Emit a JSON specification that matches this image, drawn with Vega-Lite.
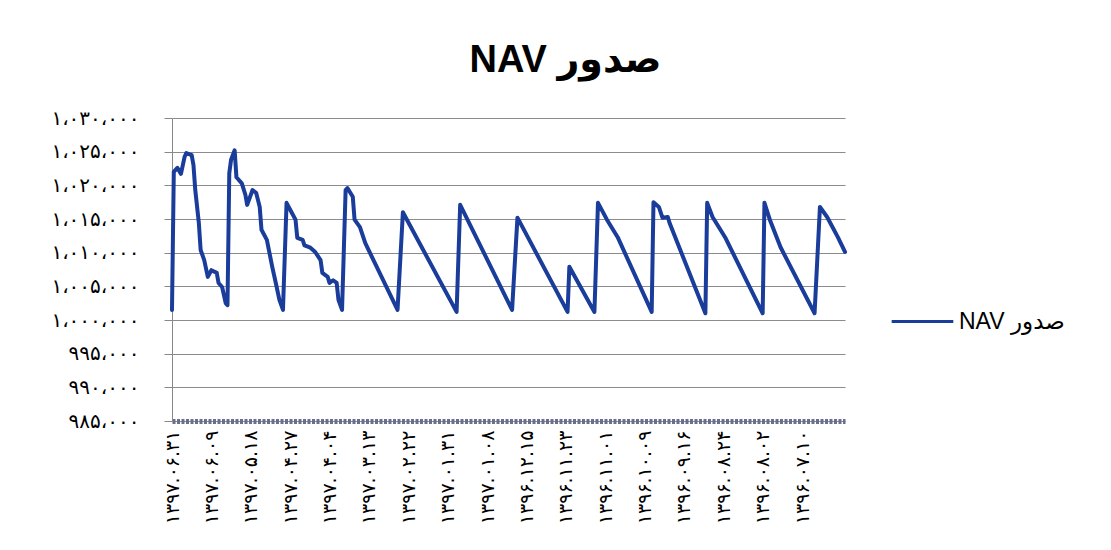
{
  "$schema": "https://vega.github.io/schema/vega-lite/v6.json",
  "width": 673,
  "height": 303,
  "autosize": "none",
  "padding": {"left": 172, "top": 118, "right": 266, "bottom": 129},
  "background": "white",
  "config": {"view": {"stroke": null}},
  "title": {"text": "NAV صدور", "fontSize": 38, "font": "Liberation Sans, DejaVu Sans", "fontWeight": "bold", "color": "black", "offset": 28, "dx": 57, "anchor": "middle"},
  "data": {"values": [
    {"day": 0, "nav": 1001500}, {"day": 1, "nav": 1022000}, {"day": 3, "nav": 1022600}, {"day": 5, "nav": 1021700},
    {"day": 7, "nav": 1024200}, {"day": 8, "nav": 1024800}, {"day": 11, "nav": 1024500}, {"day": 12, "nav": 1023000},
    {"day": 13, "nav": 1019300}, {"day": 15, "nav": 1014400}, {"day": 16, "nav": 1010400}, {"day": 18, "nav": 1008900},
    {"day": 20, "nav": 1006400}, {"day": 22, "nav": 1007400}, {"day": 25, "nav": 1007000}, {"day": 26, "nav": 1005500},
    {"day": 28, "nav": 1004900}, {"day": 30, "nav": 1002500}, {"day": 31, "nav": 1002200}, {"day": 32, "nav": 1021800},
    {"day": 33, "nav": 1023800}, {"day": 35, "nav": 1025200}, {"day": 36, "nav": 1021200}, {"day": 39, "nav": 1020300},
    {"day": 41, "nav": 1018600}, {"day": 42, "nav": 1017100}, {"day": 45, "nav": 1019300}, {"day": 47, "nav": 1018900},
    {"day": 49, "nav": 1016800}, {"day": 50, "nav": 1013400}, {"day": 53, "nav": 1011900}, {"day": 56, "nav": 1007900},
    {"day": 58, "nav": 1005500}, {"day": 60, "nav": 1003000}, {"day": 62, "nav": 1001500}, {"day": 64, "nav": 1017400},
    {"day": 67, "nav": 1015900}, {"day": 69, "nav": 1014900}, {"day": 70, "nav": 1012200}, {"day": 73, "nav": 1011900},
    {"day": 74, "nav": 1011100}, {"day": 77, "nav": 1010800}, {"day": 80, "nav": 1010100}, {"day": 83, "nav": 1008900},
    {"day": 84, "nav": 1007000}, {"day": 87, "nav": 1006400}, {"day": 88, "nav": 1005500}, {"day": 90, "nav": 1005900},
    {"day": 92, "nav": 1005500}, {"day": 93, "nav": 1003000}, {"day": 95, "nav": 1001500}, {"day": 97, "nav": 1019300},
    {"day": 98, "nav": 1019600}, {"day": 101, "nav": 1018300}, {"day": 102, "nav": 1014900}, {"day": 105, "nav": 1013800},
    {"day": 108, "nav": 1011400}, {"day": 126, "nav": 1001500}, {"day": 129, "nav": 1016000}, {"day": 159, "nav": 1001200},
    {"day": 161, "nav": 1017100}, {"day": 190, "nav": 1001500}, {"day": 193, "nav": 1015200}, {"day": 221, "nav": 1001200},
    {"day": 222, "nav": 1007900}, {"day": 236, "nav": 1001200}, {"day": 238, "nav": 1017400}, {"day": 243, "nav": 1014900},
    {"day": 249, "nav": 1012300}, {"day": 268, "nav": 1001200}, {"day": 269, "nav": 1017500}, {"day": 272, "nav": 1016800},
    {"day": 274, "nav": 1015200}, {"day": 277, "nav": 1015300}, {"day": 278, "nav": 1014400}, {"day": 298, "nav": 1001000},
    {"day": 299, "nav": 1017400}, {"day": 302, "nav": 1015300}, {"day": 309, "nav": 1012300}, {"day": 330, "nav": 1001000},
    {"day": 331, "nav": 1017400}, {"day": 334, "nav": 1014900}, {"day": 340, "nav": 1010800}, {"day": 359, "nav": 1001000},
    {"day": 362, "nav": 1016800}, {"day": 366, "nav": 1015300}, {"day": 372, "nav": 1012300}, {"day": 376, "nav": 1010100}
  ]},
  "mark": {"type": "line", "strokeWidth": 4, "strokeJoin": "round", "strokeCap": "round"},
  "encoding": {
    "x": {
      "field": "day", "type": "quantitative",
      "scale": {"domain": [0, 376], "nice": false, "zero": false},
      "axis": {
        "title": null,
        "values": [0, 22, 44, 66, 88, 110, 132, 154, 176, 198, 220, 242, 264, 286, 308, 330, 352],
        "labelExpr": "['۱۳۹۷.۰۶.۳۱','۱۳۹۷.۰۶.۰۹','۱۳۹۷.۰۵.۱۸','۱۳۹۷.۰۴.۲۷','۱۳۹۷.۰۴.۰۴','۱۳۹۷.۰۳.۱۳','۱۳۹۷.۰۲.۲۲','۱۳۹۷.۰۱.۳۱','۱۳۹۷.۰۱.۰۸','۱۳۹۶.۱۲.۱۵','۱۳۹۶.۱۱.۲۳','۱۳۹۶.۱۱.۰۱','۱۳۹۶.۱۰.۰۹','۱۳۹۶.۰۹.۱۶','۱۳۹۶.۰۸.۲۴','۱۳۹۶.۰۸.۰۲','۱۳۹۶.۰۷.۱۰'][round(datum.value / 22)]",
        "labelAngle": -90,
        "labelFont": "DejaVu Sans",
        "labelFontSize": 19,
        "labelColor": "black",
        "labelPadding": 9,
        "labelOverlap": false,
        "labelBound": false,
        "labelFlush": false,
        "ticks": false,
        "grid": false,
        "domainColor": "#6b6f8e",
        "domainWidth": 5,
        "domainDash": [3, 1.5]
      }
    },
    "y": {
      "field": "nav", "type": "quantitative",
      "scale": {"domain": [985000, 1030000], "nice": false, "zero": false},
      "axis": {
        "title": null,
        "values": [985000, 990000, 995000, 1000000, 1005000, 1010000, 1015000, 1020000, 1025000, 1030000],
        "labelExpr": "replace(replace(replace(replace(replace(replace(replace(replace(replace(replace(replace(format(datum.value, ','), regexp(',', 'g'), '،'), regexp('0', 'g'), '۰'), regexp('1', 'g'), '۱'), regexp('2', 'g'), '۲'), regexp('3', 'g'), '۳'), regexp('4', 'g'), '۴'), regexp('5', 'g'), '۵'), regexp('6', 'g'), '۶'), regexp('7', 'g'), '۷'), regexp('8', 'g'), '۸'), regexp('9', 'g'), '۹')",
        "labelFont": "DejaVu Sans",
        "labelFontSize": 20,
        "labelColor": "black",
        "labelPadding": 25,
        "tickSize": 8,
        "tickColor": "#888888",
        "domainColor": "#888888",
        "grid": true,
        "gridColor": "#8c8c8c",
        "gridWidth": 1
      }
    },
    "color": {
      "datum": "NAV صدور",
      "type": "nominal",
      "scale": {"range": ["#1a3c9a"]},
      "legend": {
        "title": null,
        "orient": "none",
        "legendX": 718,
        "legendY": 171,
        "symbolType": "stroke",
        "symbolSize": 3800,
        "symbolStrokeWidth": 3,
        "labelFont": "Liberation Sans, DejaVu Sans",
        "labelFontSize": 23,
        "labelColor": "black"
      }
    }
  }
}
